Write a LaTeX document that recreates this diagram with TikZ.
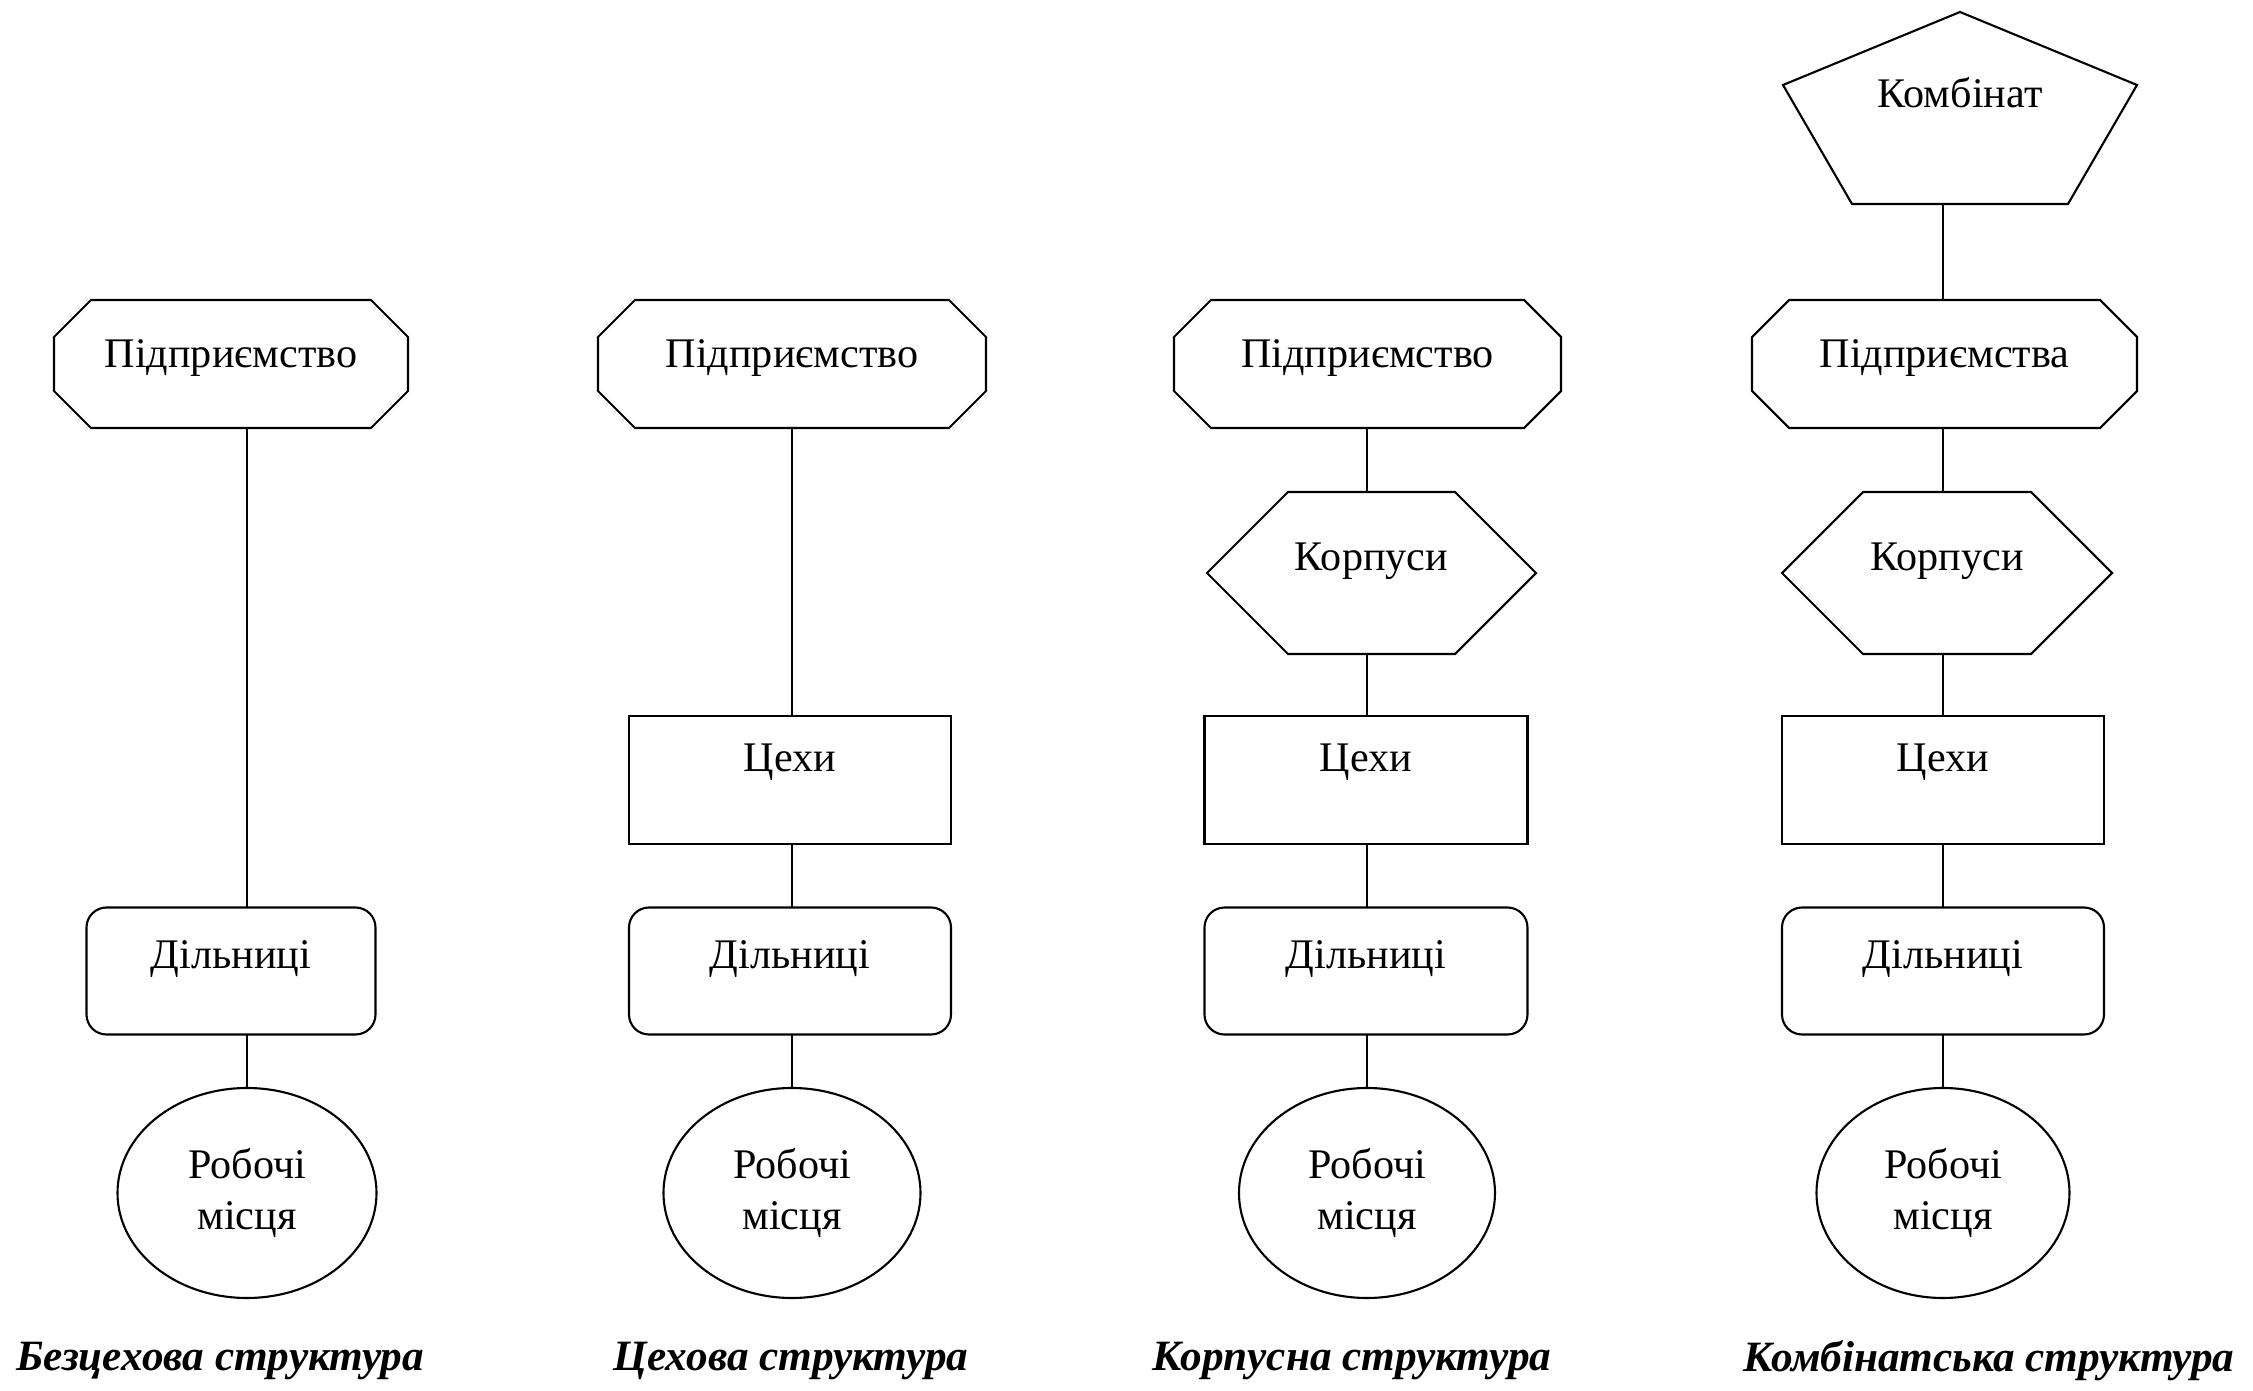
\documentclass[tikz,border=0pt]{standalone}
\usepackage{fontspec}
\setmainfont{Liberation Serif}
\usetikzlibrary{positioning, shapes.geometric, calc}

\tikzset{
  unit/.style = {line width=0.6pt, inner sep=0pt, outer sep=0pt},
  octa/.style = {unit, rectangle, minimum height=1.28cm,
    text height=8pt, text depth=6pt},
  hexa/.style = {unit, rectangle, minimum height=1.62cm,
    text height=8pt, text depth=9.5pt},
  penta/.style = {unit, rectangle, minimum height=1.92cm,
    text height=8pt, text depth=8.2pt},
  shop/.style = {unit, draw, rectangle, minimum height=1.28cm,
    text height=8pt, text depth=13pt},
  area/.style = {unit, draw, rectangle, rounded corners=0.2cm, minimum height=1.27cm,
    text height=8pt, text depth=9.6pt},
  place/.style = {unit, draw, ellipse, minimum height=2.10cm, align=center},
  caption/.style = {font=\fontsize{12.3}{14}\selectfont\bfseries\itshape},
  link/.style = {line width=0.6pt}
}

% outline with cut corners round a named node
\newcommand{\octframe}[1]{%
  \draw [link] ($(#1.north west) + (0.37, 0)$) -- ($(#1.north east) + (-0.37, 0)$)
    -- ($(#1.north east) + (0, -0.37)$) -- ($(#1.south east) + (0, 0.37)$)
    -- ($(#1.south east) + (-0.37, 0)$) -- ($(#1.south west) + (0.37, 0)$)
    -- ($(#1.south west) + (0, 0.37)$) -- ($(#1.north west) + (0, -0.37)$) -- cycle;}
\newcommand{\hexframe}[1]{%
  \draw [link] ($(#1.north west) + (0.81, 0)$) -- ($(#1.north east) + (-0.81, 0)$)
    -- (#1.east) -- ($(#1.south east) + (-0.81, 0)$)
    -- ($(#1.south west) + (0.81, 0)$) -- (#1.west) -- cycle;}

\begin{document}
\begin{tikzpicture}[font=\fontsize{12}{14.4}\selectfont]
\useasboundingbox (0, 0) rectangle (22.53, 13.90);
% Безцехова структура
\node [octa, minimum width=3.54cm] (pred1) at (2.31, 10.26) {Підприємство};
\octframe{pred1}
\node [area, minimum width=2.89cm] (dil1) at (2.31, 4.19) {Дільниці};
\node [place, minimum width=2.59cm] (rob1) at (2.47, 1.97) {Робочі\\місця};
\node [caption] (cap1) at (2.20, 0.29) {Безцехова структура};
\draw [link] (rob1 |- pred1.south) -- (rob1 |- dil1.north);
\draw [link] (rob1 |- dil1.south) -- (rob1.north);
% Цехова структура
\node [octa, minimum width=3.88cm] (pred2) at (7.92, 10.26) {Підприємство};
\octframe{pred2}
\node [shop, minimum width=3.22cm] (tsekh2) at (7.90, 6.10) {Цехи};
\node [area, minimum width=3.22cm] (dil2) at (7.90, 4.19) {Дільниці};
\node [place, minimum width=2.57cm] (rob2) at (7.92, 1.97) {Робочі\\місця};
\node [caption] (cap2) at (7.91, 0.29) {Цехова структура};
\draw [link] (rob2 |- pred2.south) -- (rob2 |- tsekh2.north);
\draw [link] (rob2 |- tsekh2.south) -- (rob2 |- dil2.north);
\draw [link] (rob2 |- dil2.south) -- (rob2.north);
% Корпусна структура
\node [octa, minimum width=3.87cm] (pred3) at (13.675, 10.26) {Підприємство};
\octframe{pred3}
\node [hexa, minimum width=3.29cm] (korp3) at (13.715, 8.17) {Корпуси};
\hexframe{korp3}
\node [shop, minimum width=3.23cm] (tsekh3) at (13.66, 6.10) {Цехи};
\node [area, minimum width=3.23cm] (dil3) at (13.66, 4.19) {Дільниці};
\node [place, minimum width=2.56cm] (rob3) at (13.67, 1.97) {Робочі\\місця};
\node [caption] (cap3) at (13.52, 0.29) {Корпусна структура};
\draw [link] (rob3 |- pred3.south) -- (rob3 |- korp3.north);
\draw [link] (rob3 |- korp3.south) -- (rob3 |- tsekh3.north);
\draw [link] (rob3 |- tsekh3.south) -- (rob3 |- dil3.north);
\draw [link] (rob3 |- dil3.south) -- (rob3.north);
% Комбінатська структура
\node [penta, minimum width=3.54cm] (komb4) at (19.60, 12.82) {Комбінат};
\draw [link] (komb4.north) -- ($(komb4.west) + (0, 0.23)$)
  -- ($(komb4.south) + (-1.08, 0)$) -- ($(komb4.south) + (1.08, 0)$)
  -- ($(komb4.east) + (0, 0.23)$) -- cycle;
\node [octa, minimum width=3.85cm] (pred4) at (19.445, 10.26) {Підприємства};
\octframe{pred4}
\node [hexa, minimum width=3.30cm] (korp4) at (19.47, 8.17) {Корпуси};
\hexframe{korp4}
\node [shop, minimum width=3.22cm] (tsekh4) at (19.43, 6.10) {Цехи};
\node [area, minimum width=3.22cm] (dil4) at (19.43, 4.19) {Дільниці};
\node [place, minimum width=2.53cm] (rob4) at (19.43, 1.97) {Робочі\\місця};
\node [caption] (cap4) at (19.89, 0.29) {Комбінатська структура};
\draw [link] (rob4 |- komb4.south) -- (rob4 |- pred4.north);
\draw [link] (rob4 |- pred4.south) -- (rob4 |- korp4.north);
\draw [link] (rob4 |- korp4.south) -- (rob4 |- tsekh4.north);
\draw [link] (rob4 |- tsekh4.south) -- (rob4 |- dil4.north);
\draw [link] (rob4 |- dil4.south) -- (rob4.north);
\end{tikzpicture}
\end{document}
